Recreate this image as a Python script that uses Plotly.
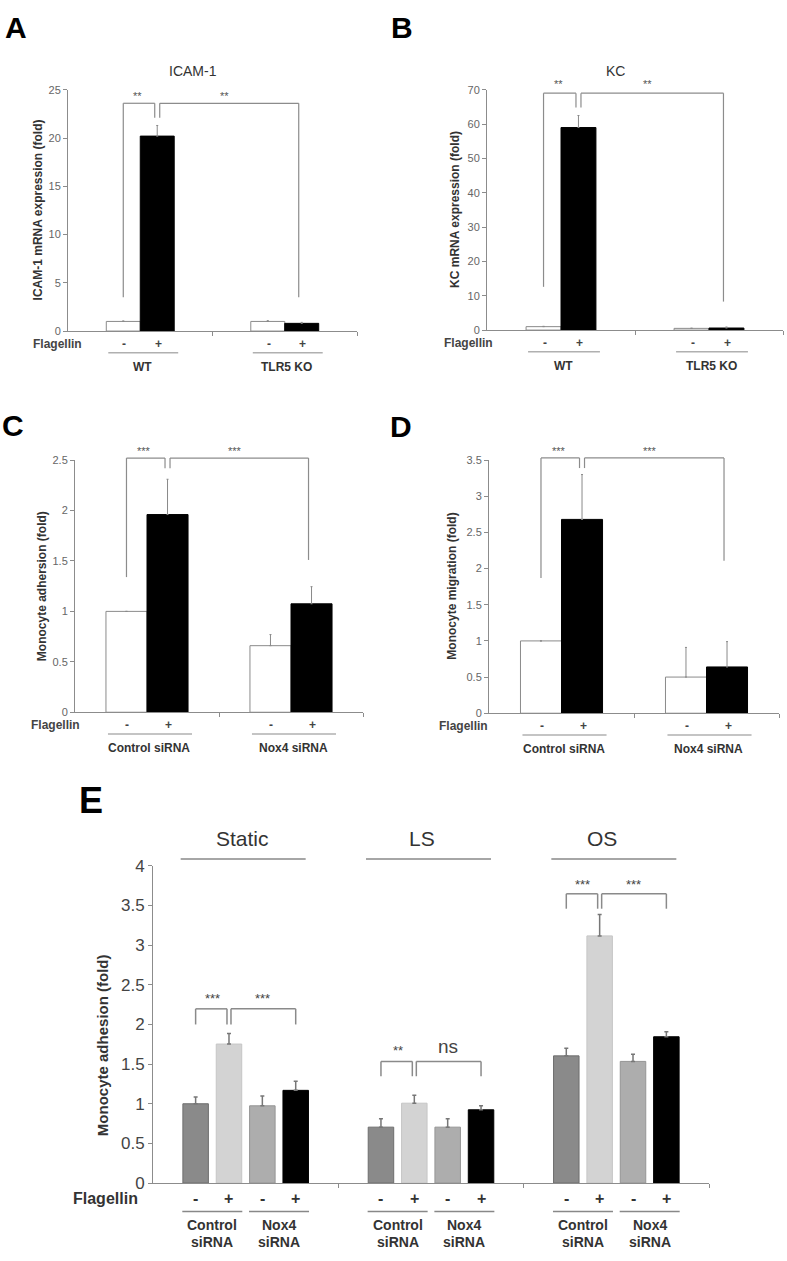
import plotly.graph_objects as go

W, H = 787, 1261
FONT = "Liberation Sans, Arial, Helvetica, sans-serif"
AXIS_GRAY = "#8c8c8c"

# ---------------- data ----------------
A_title = "ICAM-1"
A_ytitle = "ICAM-1 mRNA expression (fold)"
A_groups = ["WT", "TLR5 KO"]
A_minus = [1.0, 1.0]
A_minus_err = [0.05, 0.08]
A_plus = [20.2, 0.8]
A_plus_err = [1.1, 0.1]
A_sig = ["**", "**"]
A_bracket = [3.5, 23.6, 22.1, 3.5, 24.7]   # left low, top, middle low, right low, star level

B_title = "KC"
B_ytitle = "KC mRNA expression (fold)"
B_groups = ["WT", "TLR5 KO"]
B_minus = [1.0, 0.5]
B_minus_err = [0.1, 0.05]
B_plus = [59.0, 0.6]
B_plus_err = [3.5, 0.3]
B_sig = ["**", "**"]
B_bracket = [12.6, 69.0, 64.8, 8.3, 72.6]

C_ytitle = "Monocyte adhersion (fold)"
C_groups = ["Control siRNA", "Nox4 siRNA"]
C_minus = [1.0, 0.66]
C_minus_err = [0.0, 0.11]
C_plus = [1.96, 1.075]
C_plus_err = [0.35, 0.17]
C_sig = ["***", "***"]
C_bracket = [1.34, 2.52, 2.42, 1.51, 2.62]

D_ytitle = "Monocyte migration (fold)"
D_groups = ["Control siRNA", "Nox4 siRNA"]
D_minus = [1.0, 0.5]
D_minus_err = [0.0, 0.41]
D_plus = [2.68, 0.64]
D_plus_err = [0.62, 0.35]
D_sig = ["***", "***"]
D_bracket = [1.87, 3.53, 3.39, 2.11, 3.66]

E_ytitle = "Monocyte adhesion (fold)"
E_conditions = ["Static", "LS", "OS"]
E_sub_groups = ["Control", "Nox4"]
E_ctrl_minus = [1.0, 0.705, 1.604]
E_ctrl_minus_err = [0.086, 0.105, 0.096]
E_ctrl_plus = [1.753, 1.007, 3.117]
E_ctrl_plus_err = [0.133, 0.100, 0.270]
E_nox_minus = [0.974, 0.705, 1.534]
E_nox_minus_err = [0.124, 0.105, 0.091]
E_nox_plus = [1.169, 0.924, 1.845]
E_nox_plus_err = [0.116, 0.051, 0.062]
E_sig_left = ["***", "**", "***"]
E_sig_right = ["***", "ns", "***"]
E_bracket_low = [2.0, 1.347, 3.46]
E_bracket_top = [2.197, 1.534, 3.648]
E_star_level = [2.375, 1.72, 3.82]

FLAG = "Flagellin"

# ---------------- layout config (pixel boxes) ----------------
P = {
    "A": dict(i=1, xd=(68, 357), yd=(82, 327), yr=(0, 25), dt=5, ng=2, bw=0.235),
    "B": dict(i=2, xd=(487, 783), yd=(82, 326), yr=(0, 70), dt=10, ng=2, bw=0.236),
    "C": dict(i=3, xd=(75, 363), yd=(458, 714), yr=(0, 2.5), dt=0.5, ng=2, bw=0.285),
    "D": dict(i=4, xd=(489, 779), yd=(458, 715), yr=(0, 3.5), dt=0.5, ng=2, bw=0.283),
    "E": dict(i=5, xd=(153, 709), yd=(870, 1192), yr=(0, 4), dt=0.5, ng=3, bw=0.1376),
}

fig = go.Figure()
shapes, annots = [], []


def dpx(p, xv):
    c = P[p]
    x0, x1 = c["xd"]
    return x0 + (xv + 0.5) / c["ng"] * (x1 - x0)


def ypx(p, yv):
    c = P[p]
    ytop, ybot = c["yd"]
    lo, hi = c["yr"]
    return ybot - (yv - lo) / (hi - lo) * (ybot - ytop)


def text(px, py, s, size, color="#333", bold=False, angle=0, xanchor="center", yanchor="middle"):
    annots.append(dict(x=px / W, y=1 - py / H, xref="paper", yref="paper",
                       text=f"<b>{s}</b>" if bold else s, showarrow=False,
                       font=dict(family=FONT, size=size, color=color), textangle=angle,
                       xanchor=xanchor, yanchor=yanchor))


def seg(x0, y0, x1, y1, color, width):
    shapes.append(dict(type="line", xref="paper", yref="paper",
                       x0=x0 / W, y0=1 - y0 / H, x1=x1 / W, y1=1 - y1 / H,
                       line=dict(color=color, width=width)))


def axes(p, tickvals, tick_size, tick_color):
    c = P[p]
    i = c["i"]
    sx = "" if i == 1 else str(i)
    fig.layout[f"xaxis{sx}"] = dict(
        domain=[c["xd"][0] / W, c["xd"][1] / W], range=[-0.5, c["ng"] - 0.5],
        anchor=f"y{sx}", showline=True, linecolor=AXIS_GRAY, linewidth=1,
        ticks="outside", ticklen=4, tickcolor=AXIS_GRAY, tickvals=tickvals,
        showticklabels=False, showgrid=False, zeroline=False, fixedrange=True)
    fig.layout[f"yaxis{sx}"] = dict(
        domain=[1 - c["yd"][1] / H, 1 - c["yd"][0] / H], range=list(c["yr"]),
        anchor=f"x{sx}", showline=True, linecolor=AXIS_GRAY, linewidth=1,
        ticks="outside", ticklen=4, tickcolor=AXIS_GRAY, dtick=c["dt"], tick0=0,
        tickfont=dict(family=FONT, size=tick_size, color=tick_color),
        showgrid=False, zeroline=False, fixedrange=True)
    return "x" + sx, "y" + sx


def two_group_panel(p, groups, minus, minus_err, plus, plus_err, sig, br,
                    ytitle, ytitle_x, flag_x, title=None):
    c = P[p]
    bw = c["bw"]
    xr, yr = axes(p, [0.5, 1.5], 11, "#666")
    xs = list(range(len(groups)))
    fig.add_trace(go.Bar(x=xs, y=minus, width=bw, offset=-bw, xaxis=xr, yaxis=yr,
                         marker=dict(color="white", line=dict(color="#8a8a8a", width=1)),
                         error_y=dict(type="data", symmetric=False, array=minus_err,
                                      arrayminus=[0] * len(xs), color="#8a8a8a",
                                      thickness=1, width=1),
                         showlegend=False, hoverinfo="skip"))
    fig.add_trace(go.Bar(x=xs, y=plus, width=bw, offset=0, xaxis=xr, yaxis=yr,
                         marker=dict(color="black", line=dict(color="black", width=1)),
                         error_y=dict(type="data", symmetric=False, array=plus_err,
                                      arrayminus=[0] * len(xs), color="#8a8a8a",
                                      thickness=1, width=1),
                         showlegend=False, hoverinfo="skip"))
    # bracket
    col, lw = "#8c8c8c", 1.2
    xl = dpx(p, 0 - bw / 2)
    xm = dpx(p, 0 + bw / 2)
    xrt = dpx(p, 1 + bw / 2) - 3
    low_l, top, mid_low, low_r, star = br
    seg(xl, ypx(p, low_l), xl, ypx(p, top), col, lw)
    seg(xl, ypx(p, top), xm - 2.5, ypx(p, top), col, lw)
    seg(xm - 2.5, ypx(p, top), xm - 2.5, ypx(p, mid_low), col, lw)
    seg(xm + 2.5, ypx(p, mid_low), xm + 2.5, ypx(p, top), col, lw)
    seg(xm + 2.5, ypx(p, top), xrt, ypx(p, top), col, lw)
    seg(xrt, ypx(p, top), xrt, ypx(p, low_r), col, lw)
    text((xl + xm) / 2 - 3, ypx(p, star) + 3, sig[0], 11, "#555")
    text((xm + xrt) / 2 - 3, ypx(p, star) + 3, sig[1], 11, "#555")
    # labels under axis
    ybot = c["yd"][1]
    text(flag_x, ybot + 13, FLAG, 12, "#444", bold=True)
    for g, name in enumerate(groups):
        text(dpx(p, g - bw / 2) + 1, ybot + 13, "-", 12, "#444", bold=True)
        text(dpx(p, g + bw / 2) + 1, ybot + 13, "+", 12, "#444", bold=True)
        gl, gr = dpx(p, g - bw), dpx(p, g + bw)
        seg(gl + 2, ybot + 22, gr + 4, ybot + 22, "#b0b0b0", 1.5)
        text(dpx(p, g) + 2, ybot + 36, name, 12, "#333", bold=True)
    # y title
    text(ytitle_x, (c["yd"][0] + c["yd"][1]) / 2, ytitle, 12, "#333", bold=True, angle=-90)
    if title:
        text((c["xd"][0] + c["xd"][1]) / 2 - 20, 63, title, 14, "#333")


two_group_panel("A", A_groups, A_minus, A_minus_err, A_plus, A_plus_err, A_sig, A_bracket,
                A_ytitle, 38, 57, A_title)
two_group_panel("B", B_groups, B_minus, B_minus_err, B_plus, B_plus_err, B_sig, B_bracket,
                B_ytitle, 455, 468, B_title)
two_group_panel("C", C_groups, C_minus, C_minus_err, C_plus, C_plus_err, C_sig, C_bracket,
                C_ytitle, 42, 55)
two_group_panel("D", D_groups, D_minus, D_minus_err, D_plus, D_plus_err, D_sig, D_bracket,
                D_ytitle, 452, 464)

# ---------------- panel E ----------------
c = P["E"]
xr, yr = axes("E", [0.5, 1.5, 2.5], 17, "#444")
step = 0.18
bw = c["bw"]
E_series = [
    (E_ctrl_minus, E_ctrl_minus_err, "#8a8a8a", "#6e6e6e"),
    (E_ctrl_plus, E_ctrl_plus_err, "#d3d3d3", "#c6c6c6"),
    (E_nox_minus, E_nox_minus_err, "#adadad", "#949494"),
    (E_nox_plus, E_nox_plus_err, "#000000", "#000000"),
]
xs = list(range(len(E_conditions)))
for k, (vals, errs, fill, edge) in enumerate(E_series):
    fig.add_trace(go.Bar(x=xs, y=vals, width=bw, offset=(k - 1.5) * step - bw / 2,
                         xaxis=xr, yaxis=yr,
                         marker=dict(color=fill, line=dict(color=edge, width=1)),
                         error_y=dict(type="data", symmetric=False, array=errs,
                                      arrayminus=[0] * len(xs), color="#777",
                                      thickness=1.5, width=2),
                         showlegend=False, hoverinfo="skip"))

ybot = c["yd"][1]
title_nudge = [-3, -9, -14]
for g, cond in enumerate(E_conditions):
    centers = [dpx("E", g + (k - 1.5) * step) for k in range(4)]
    gc = dpx("E", g)
    text(gc + title_nudge[g], 842, cond, 21, "#333")
    seg(gc - 65, 863, gc + 60, 863, "#888", 1.5)
    col, lw = "#8a8a8a", 1.5
    lo, top = ypx("E", E_bracket_low[g]), ypx("E", E_bracket_top[g])
    x1, x2, x4 = centers[0], centers[1], centers[3]
    seg(x1, lo, x1, top, col, lw)
    seg(x1, top, x2 - 2, top, col, lw)
    seg(x2 - 2, top, x2 - 2, lo, col, lw)
    seg(x2 + 2, lo, x2 + 2, top, col, lw)
    seg(x2 + 2, top, x4, top, col, lw)
    seg(x4, top, x4, lo, col, lw)
    sy = ypx("E", E_star_level[g])
    for s, sx in ((E_sig_left[g], (x1 + x2) / 2), (E_sig_right[g], (x2 + x4) / 2)):
        if s == "ns":
            text(sx, sy, s, 19, "#444")
        else:
            text(sx, sy + 4, s, 13, "#444")
    for k in range(4):
        text(centers[k], ybot + 16, "-" if k % 2 == 0 else "+", 16, "#333", bold=True)
    for j, sub in enumerate(E_sub_groups):
        pc = (centers[2 * j] + centers[2 * j + 1]) / 2
        seg(pc - 30, ybot + 29, pc + 30, ybot + 29, "#888", 1.5)
        text(pc, ybot + 43, sub, 14, "#333", bold=True)
        text(pc, ybot + 60, "siRNA", 14, "#333", bold=True)

text(106, ybot + 16, FLAG, 16, "#333", bold=True)
text(102, (c["yd"][0] + c["yd"][1]) / 2 + 21, E_ytitle, 15, "#333", bold=True, angle=-90)

for letter, (lx, ly, ls) in {"A": (16, 19, 30), "B": (402, 19, 30), "C": (13, 423, 30),
                             "D": (401, 424, 30), "E": (91, 804, 36)}.items():
    text(lx, ly, letter, ls, "black", bold=True)

fig.update_layout(width=W, height=H, autosize=False, margin=dict(l=0, r=0, t=0, b=0),
                  paper_bgcolor="white", plot_bgcolor="white", barmode="overlay",
                  shapes=shapes, annotations=annots, font=dict(family=FONT))

fig.write_html("out.html", config={"displayModeBar": False},
               post_script="document.body.style.margin='0';document.body.style.overflow='hidden';")
